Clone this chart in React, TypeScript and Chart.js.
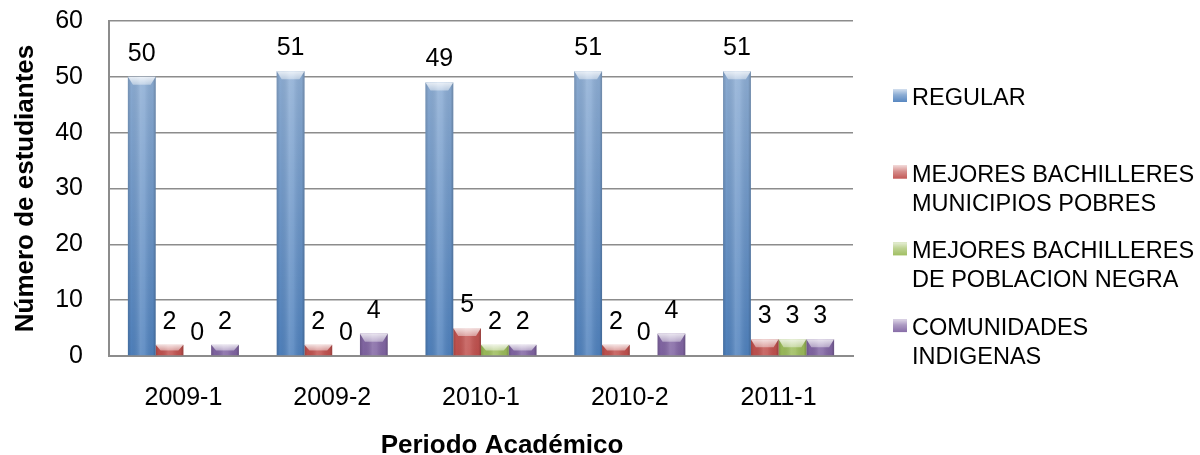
import { useEffect, useRef } from 'react';
import { Chart, registerables } from 'chart.js';

Chart.register(...registerables);

const FONT = '"Liberation Sans", Arial, Helvetica, sans-serif';

const categories = ['2009-1', '2009-2', '2010-1', '2010-2', '2011-1'];
const regular = [50, 51, 49, 51, 51];
const mejoresPobres = [2, 2, 5, 2, 3];
const poblacionNegra = [0, 0, 2, 0, 3];
const indigenas = [2, 4, 2, 4, 3];
const seriesLabels = [
  ['REGULAR'],
  ['MEJORES BACHILLERES', 'MUNICIPIOS POBRES'],
  ['MEJORES BACHILLERES', 'DE POBLACION NEGRA'],
  ['COMUNIDADES', 'INDIGENAS'],
];
const seriesColors = ['#4F81BD', '#C0504D', '#9BBB59', '#8064A2'];
const yTicks = [0, 10, 20, 30, 40, 50, 60];
const yTitle = 'Número de estudiantes';
const xTitle = 'Periodo Académico';

const barLook = {
  id: 'barLook',
  afterDatasetsDraw(chart: any) {
    const ctx = chart.ctx;
    const area = chart.chartArea;
    chart.data.datasets.forEach((_ds: any, di: number) => {
      const meta = chart.getDatasetMeta(di);
      meta.data.forEach((bar: any) => {
        const { x, y, base, width } = bar.getProps(['x', 'y', 'base', 'width'], true);
        const h = base - y;
        if (h <= 0.5) return;
        const l = x - width / 2;
        const r = x + width / 2;
        ctx.save();
        const vg = ctx.createLinearGradient(0, area.top, 0, area.bottom);
        vg.addColorStop(0, 'rgba(255,255,255,0.42)');
        vg.addColorStop(1, 'rgba(255,255,255,0)');
        ctx.fillStyle = vg;
        ctx.fillRect(l, y, width, h);
        const g = ctx.createLinearGradient(l, 0, r, 0);
        g.addColorStop(0, 'rgba(0,0,0,0.16)');
        g.addColorStop(0.12, 'rgba(0,0,0,0.02)');
        g.addColorStop(0.45, 'rgba(255,255,255,0.16)');
        g.addColorStop(0.6, 'rgba(255,255,255,0.12)');
        g.addColorStop(0.9, 'rgba(0,0,0,0.04)');
        g.addColorStop(1, 'rgba(0,0,0,0.22)');
        ctx.fillStyle = g;
        ctx.fillRect(l, y, width, h);
        const b = Math.min(8, h * 0.55);
        const inset = Math.min(5, width * 0.18);
        const tg = ctx.createLinearGradient(0, y, 0, y + b);
        tg.addColorStop(0, 'rgba(255,255,255,0.8)');
        tg.addColorStop(1, 'rgba(255,255,255,0.4)');
        ctx.fillStyle = tg;
        ctx.beginPath();
        ctx.moveTo(l, y);
        ctx.lineTo(r, y);
        ctx.lineTo(r - inset, y + b);
        ctx.lineTo(l + inset, y + b);
        ctx.closePath();
        ctx.fill();
        ctx.restore();
      });
    });
  },
};

const valueLabels = {
  id: 'valueLabels',
  afterDatasetsDraw(chart: any) {
    const ctx = chart.ctx;
    ctx.save();
    ctx.font = `25px ${FONT}`;
    ctx.fillStyle = '#000';
    ctx.textAlign = 'center';
    ctx.textBaseline = 'alphabetic';
    chart.data.datasets.forEach((ds: any, di: number) => {
      const meta = chart.getDatasetMeta(di);
      meta.data.forEach((bar: any, i: number) => {
        const { x, y } = bar.getProps(['x', 'y'], true);
        ctx.fillText(String(ds.data[i]), x, y - 16);
      });
    });
    ctx.restore();
  },
};

const sideLegend = {
  id: 'sideLegend',
  afterDraw(chart: any) {
    const ctx = chart.ctx;
    const area = chart.chartArea;
    ctx.save();
    ctx.font = `23.5px ${FONT}`;
    ctx.textAlign = 'left';
    ctx.textBaseline = 'alphabetic';
    const x0 = area.right + 40;
    seriesLabels.forEach((lines, i) => {
      const baseY = 105 + i * 76.7;
      const my = baseY - 16;
      const size = 13;
      ctx.fillStyle = seriesColors[i];
      ctx.fillRect(x0, my, size + 1, size);
      const g = ctx.createLinearGradient(0, my, 0, my + size);
      g.addColorStop(0, 'rgba(255,255,255,0.75)');
      g.addColorStop(0.45, 'rgba(255,255,255,0.35)');
      g.addColorStop(1, 'rgba(255,255,255,0.05)');
      ctx.fillStyle = g;
      ctx.fillRect(x0, my, size + 1, size);
      ctx.fillStyle = '#000';
      lines.forEach((t, j) => ctx.fillText(t, x0 + 19, baseY + j * 29));
    });
    ctx.restore();
  },
};

const axisTitles = {
  id: 'axisTitles',
  afterDraw(chart: any) {
    const ctx = chart.ctx;
    const area = chart.chartArea;
    ctx.save();
    ctx.font = `bold 26px ${FONT}`;
    ctx.fillStyle = '#000';
    ctx.textAlign = 'center';
    ctx.textBaseline = 'alphabetic';
    ctx.fillText(xTitle, (area.left + area.right) / 2 + 21, 453);
    ctx.translate(33, (area.top + area.bottom) / 2);
    ctx.rotate(-Math.PI / 2);
    ctx.fillText(yTitle, 0, 0);
    ctx.restore();
  },
};

export default function App() {
  const ref = useRef<HTMLCanvasElement | null>(null);

  useEffect(() => {
    if (!ref.current) return;
    const datasets = [regular, mejoresPobres, poblacionNegra, indigenas].map((d, i) => ({
      label: seriesLabels[i].join(' '),
      data: d,
      backgroundColor: seriesColors[i],
      borderWidth: 0,
      categoryPercentage: 0.746,
      barPercentage: 1,
    }));
    const chart = new Chart(ref.current, {
      type: 'bar',
      data: { labels: categories, datasets },
      options: {
        responsive: false,
        animation: false,
        devicePixelRatio: 1,
        layout: { padding: { top: 21, right: 347, left: 0, bottom: 0 } },
        plugins: {
          legend: { display: false },
          tooltip: { enabled: false },
        },
        scales: {
          x: {
            grid: { display: false, drawTicks: false },
            border: { display: true, color: '#8c8c8c', width: 2 },
            ticks: { font: { size: 25, family: FONT }, color: '#000', padding: 27, maxRotation: 0 },
            afterFit: (s: any) => {
              s.height = 99;
              s.paddingLeft = 0;
              s.paddingRight = 0;
            },
          },
          y: {
            min: 0,
            max: 60,
            afterBuildTicks: (s: any) => {
              s.ticks = yTicks.map((v) => ({ value: v }));
            },
            ticks: { font: { size: 25, family: FONT }, color: '#000', padding: 26 },
            grid: { color: '#8c8c8c', lineWidth: 1.5, drawTicks: false },
            border: { display: true, color: '#8c8c8c', width: 2 },
            afterFit: (s: any) => {
              s.width = 109;
              s.paddingTop = 0;
              s.paddingBottom = 0;
            },
          },
        },
      } as any,
      plugins: [barLook, valueLabels, sideLegend, axisTitles],
    });
    return () => chart.destroy();
  }, []);

  return (
    <div style={{ position: 'fixed', left: 0, top: 0, width: 1200, height: 455, background: '#fff' }}>
      <canvas ref={ref} width={1200} height={455} style={{ display: 'block' }} />
    </div>
  );
}
